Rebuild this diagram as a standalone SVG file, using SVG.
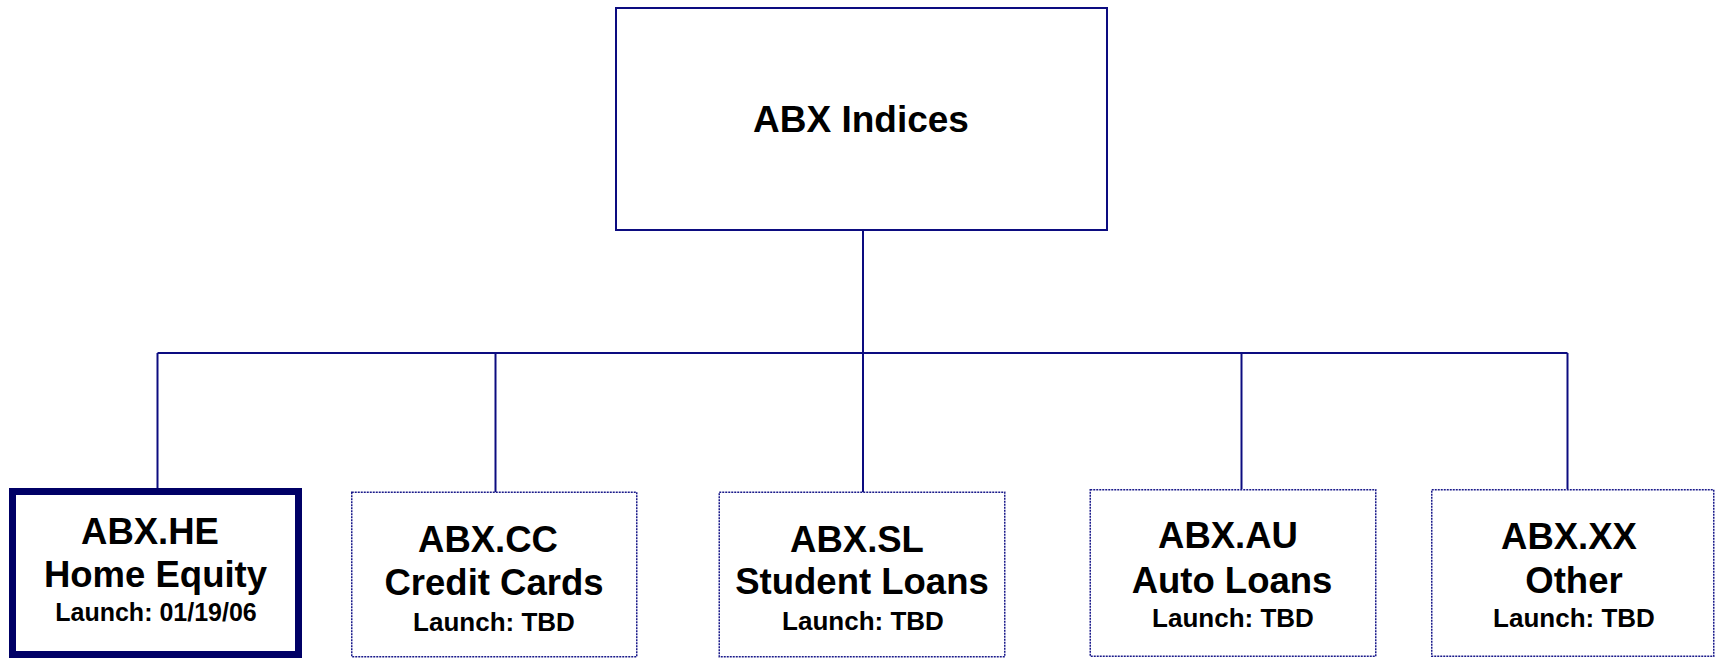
<svg xmlns="http://www.w3.org/2000/svg" width="1715" height="658" viewBox="0 0 1715 658">
<style>
  .bg { fill: #ffffff; }
  .conn { stroke: #0c0c80; stroke-width: 2; fill: none; }
  .top { fill: #ffffff; stroke: #0c0c80; stroke-width: 2; }
  .thick { fill: #ffffff; stroke: #000066; stroke-width: 7; }
  .dot { fill: #ffffff; stroke: #1a1a8a; stroke-width: 1.5; stroke-dasharray: 2 1; }
  text { font-family: "Liberation Sans", Arial, sans-serif; font-weight: bold; fill: #000000; text-anchor: middle; }
  .t1 { font-size: 37px; }
  .t2 { font-size: 36.5px; }
  .t3 { font-size: 26px; }
  .t3s { font-size: 25px; }
</style>
<rect class="bg" x="0" y="0" width="1715" height="658"/>

<g id="connectors">
  <line class="conn" x1="863" y1="231" x2="863" y2="353"/>
  <line class="conn" x1="157.5" y1="353" x2="1567.5" y2="353"/>
  <line class="conn" x1="157.5" y1="353" x2="157.5" y2="488"/>
  <line class="conn" x1="495.5" y1="353" x2="495.5" y2="492"/>
  <line class="conn" x1="863" y1="353" x2="863" y2="492"/>
  <line class="conn" x1="1241.5" y1="353" x2="1241.5" y2="489"/>
  <line class="conn" x1="1567.5" y1="353" x2="1567.5" y2="489"/>
</g>

<g id="node-abx-indices">
  <rect class="top" x="616" y="8" width="491" height="222"/>
  <text class="t1" x="861" y="132">ABX Indices</text>
</g>

<g id="node-abx-he">
  <rect class="thick" x="12.5" y="491.5" width="286" height="163"/>
  <text class="t2" x="150" y="544">ABX.HE</text>
  <text class="t2" x="155.5" y="587">Home Equity</text>
  <text class="t3s" x="156" y="621">Launch: 01/19/06</text>
</g>

<g id="node-abx-cc">
  <rect class="dot" x="351.75" y="492.25" width="285" height="164.5"/>
  <text class="t2" x="488" y="551.5">ABX.CC</text>
  <text class="t2" x="494" y="595">Credit Cards</text>
  <text class="t3" x="494" y="630.5">Launch: TBD</text>
</g>

<g id="node-abx-sl">
  <rect class="dot" x="719.25" y="492.25" width="285.5" height="164.5"/>
  <text class="t2" x="857" y="551.5">ABX.SL</text>
  <text class="t2" x="862" y="594">Student Loans</text>
  <text class="t3" x="863" y="629.5">Launch: TBD</text>
</g>

<g id="node-abx-au">
  <rect class="dot" x="1090.25" y="489.75" width="285.5" height="166.5"/>
  <text class="t2" x="1228" y="548">ABX.AU</text>
  <text class="t2" x="1232" y="593">Auto Loans</text>
  <text class="t3" x="1233" y="627">Launch: TBD</text>
</g>

<g id="node-abx-xx">
  <rect class="dot" x="1431.75" y="489.75" width="282" height="166.5"/>
  <text class="t2" x="1569" y="549">ABX.XX</text>
  <text class="t2" x="1574" y="593">Other</text>
  <text class="t3" x="1574" y="627">Launch: TBD</text>
</g>
</svg>
